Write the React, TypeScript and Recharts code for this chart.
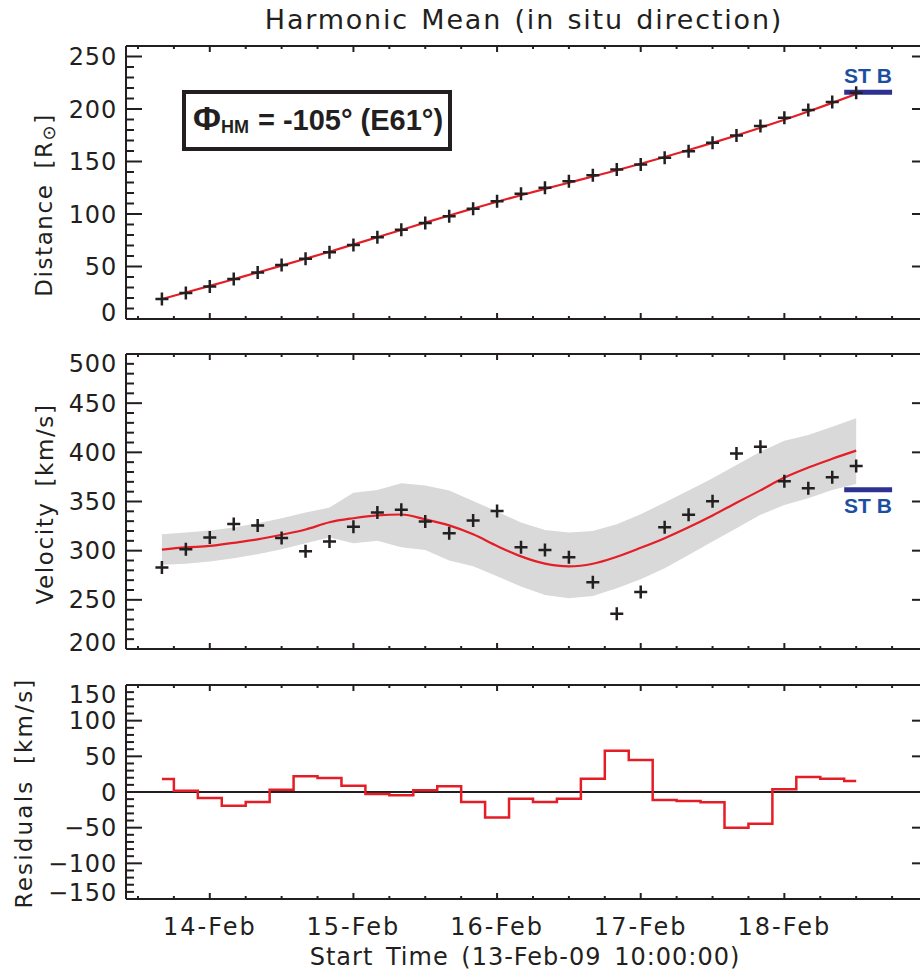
import { Area, ComposedChart, Line, ReferenceLine, Scatter, XAxis, YAxis } from "recharts";

// hours after 13-Feb-09 10:00:00
const hours = [6, 10, 14, 18, 22, 26, 30, 34, 38, 42, 46, 50, 54, 58, 62, 66, 70, 74, 78, 82, 86, 90, 94, 98, 102, 106, 110, 114, 118, 122];

const distance = [19.0, 24.7, 31.0, 38.0, 44.4, 51.4, 57.4, 63.5, 70.5, 77.8, 85.1, 91.5, 97.8, 104.9, 112.1, 119.2, 124.9, 131.2, 136.9, 142.4, 147.1, 153.5, 159.8, 167.8, 174.8, 183.7, 191.7, 199.0, 206.6, 215.5];
const distanceFit = [19.0, 25.2, 31.5, 37.9, 44.3, 50.8, 57.4, 64.1, 71.0, 77.9, 84.8, 91.8, 98.6, 105.2, 111.7, 117.9, 123.9, 129.8, 135.7, 141.7, 147.9, 154.3, 160.9, 167.7, 174.8, 182.2, 189.8, 197.7, 205.8, 214.2];

const velocity = [282.8, 301.5, 313.3, 327.2, 325.5, 313.0, 299.5, 309.3, 324.2, 338.7, 341.5, 329.6, 317.8, 330.6, 340.4, 303.6, 300.8, 293.4, 268.0, 235.8, 257.9, 323.9, 336.4, 350.3, 398.7, 405.8, 370.6, 363.5, 374.7, 386.2];
const velocityFit = [301.1, 303.3, 304.8, 308.0, 311.5, 316.2, 321.5, 328.9, 333.0, 335.9, 336.8, 331.9, 325.7, 316.6, 304.7, 294.2, 286.8, 284.0, 286.7, 293.8, 302.9, 312.7, 323.8, 335.8, 348.7, 361.3, 374.3, 384.5, 393.4, 401.7];
const velocityLow = [285.6, 286.6, 289.0, 292.4, 296.4, 301.5, 307.6, 313.3, 307.6, 310.0, 303.6, 300.8, 290.0, 284.1, 273.9, 263.5, 255.0, 251.7, 254.0, 261.9, 271.0, 282.2, 295.7, 309.3, 322.9, 336.4, 346.5, 353.3, 361.8, 367.9];
const velocityHigh = [316.8, 318.4, 320.4, 323.5, 327.9, 333.0, 338.7, 343.8, 359.0, 361.8, 368.6, 366.2, 361.1, 350.6, 339.8, 328.6, 321.1, 318.4, 320.1, 326.9, 337.1, 348.9, 361.1, 373.7, 387.2, 400.7, 411.9, 417.7, 426.1, 434.7];

const residuals = [18.3, 1.8, -8.5, -19.2, -14.0, 3.2, 22.0, 19.6, 8.8, -2.8, -4.7, 2.3, 7.9, -14.0, -35.7, -9.4, -14.0, -9.4, 18.7, 58.0, 45.0, -11.2, -12.6, -14.5, -50.0, -44.5, 3.7, 21.0, 18.7, 15.5];

const dayTicks = [14, 38, 62, 86, 110];
const dayLabels = ["14-Feb", "15-Feb", "16-Feb", "17-Feb", "18-Feb"];
const stb = { start: 120, end: 128, distance: 216, velocity: 362 };

const X_DOMAIN: [number, number] = [0, 134];
const INK = "#231f20";
const RED = "#e41e26";
const BLUE = "#2e3192";
const FONT = "'DejaVu Sans', sans-serif";
const BOLD = "'Liberation Sans', Arial, sans-serif";
const GAP = 9;

const range = (lo: number, hi: number, step: number) => {
  const out: number[] = [];
  for (let v = lo; v <= hi + 1e-9; v += step) out.push(v);
  return out;
};
const xTicks = range(2, 128, 6);

const distRows = hours.map((t, i) => ({ t, d: distance[i], fit: distanceFit[i] }));
const velRows = hours.map((t, i) => ({ t, v: velocity[i], fit: velocityFit[i], band: [velocityLow[i], velocityHigh[i]] }));
const resRows = hours.map((t, i) => ({ t, r: residuals[i] }));

const fmt = (v: number) => (v < 0 ? `\u2212${-v}` : `${v}`);

function yTick(side: "left" | "right", major: number, domain: [number, number]) {
  return function Tick(props: any) {
    const { x, y, payload } = props;
    const v = payload.value;
    const isMajor = Math.abs(v % major) < 1e-6;
    const len = isMajor ? 16 : 8;
    const ax = side === "left" ? x + GAP : x;
    const dir = side === "left" ? 1 : -1;
    let ly = y;
    if (v === domain[0]) ly -= 7;
    if (v === domain[1]) ly += 9;
    return (
      <g>
        <line x1={ax} x2={ax + dir * len} y1={y} y2={y} stroke={INK} strokeWidth={2} />
        {side === "left" && isMajor && (
          <text x={x} y={ly} dy="0.36em" textAnchor="end" fontFamily={FONT} fontSize={24} letterSpacing={0.8} fill={INK}>
            {fmt(v)}
          </text>
        )}
      </g>
    );
  };
}

function xTick(side: "top" | "bottom", labels: boolean) {
  return function Tick(props: any) {
    const { x, y, payload } = props;
    const idx = dayTicks.indexOf(payload.value);
    const len = idx >= 0 ? 6 : 3;
    const dir = side === "bottom" ? -1 : 1;
    return (
      <g>
        <line x1={x} x2={x} y1={y} y2={y + dir * len} stroke={INK} strokeWidth={2} />
        {labels && idx >= 0 && (
          <text x={x} y={y + 36} textAnchor="middle" fontFamily={FONT} fontSize={24} letterSpacing={2} fill={INK}>
            {dayLabels[idx]}
          </text>
        )}
      </g>
    );
  };
}

function Cross(props: any) {
  const { cx, cy } = props;
  if (cx == null || cy == null) return null;
  return <path d={`M${cx - 6.5},${cy}H${cx + 6.5}M${cx},${cy - 6.5}V${cy + 6.5}`} stroke={INK} strokeWidth={2.5} fill="none" />;
}

function Frame(props: { domain: [number, number]; major: number; minor: number; bottomHeight: number; labels: boolean }) {
  const { domain, major, minor, bottomHeight, labels } = props;
  const yTicks = range(domain[0], domain[1], minor);
  return [
    <XAxis key="xb" xAxisId={0} type="number" dataKey="t" domain={X_DOMAIN} ticks={xTicks} interval={0} orientation="bottom" height={bottomHeight} tickSize={0} tickMargin={0} tick={xTick("bottom", labels)} axisLine={{ stroke: INK, strokeWidth: 2 }} allowDataOverflow />,
    <XAxis key="xt" xAxisId="top" type="number" dataKey="t" domain={X_DOMAIN} ticks={xTicks} interval={0} orientation="top" height={1} tickSize={0} tickMargin={0} tick={xTick("top", false)} axisLine={{ stroke: INK, strokeWidth: 2 }} allowDataOverflow />,
    <YAxis key="yl" yAxisId={0} type="number" domain={domain} ticks={yTicks} interval={0} orientation="left" width={126} tickSize={0} tickMargin={GAP} tick={yTick("left", major, domain)} axisLine={{ stroke: INK, strokeWidth: 2 }} allowDataOverflow />,
    <YAxis key="yr" yAxisId="right" type="number" domain={domain} ticks={yTicks} interval={0} orientation="right" width={1} tickSize={0} tickMargin={0} tick={yTick("right", major, domain)} axisLine={{ stroke: INK, strokeWidth: 2 }} allowDataOverflow />,
  ];
}

const titleStyle = { fontFamily: FONT, fill: INK, letterSpacing: 1.6, wordSpacing: 6 };

export default function App() {
  return (
    <div style={{ position: "absolute", left: 0, top: 0, width: 920, height: 974, overflow: "hidden", background: "#fff" }}>
      <div style={{ position: "absolute", left: 0, top: 0 }}>
        <ComposedChart width={930} height={330} data={distRows} margin={{ top: 45, right: 1, bottom: 10, left: 0 }}>
          {Frame({ domain: [0, 260], major: 50, minor: 10, bottomHeight: 1, labels: false })}
          <Line type="monotone" dataKey="fit" stroke={RED} strokeWidth={2.2} dot={false} isAnimationActive={false} />
          <Scatter dataKey="d" shape={Cross} isAnimationActive={false} />
          <ReferenceLine segment={[{ x: stb.start, y: stb.distance }, { x: stb.end, y: stb.distance }]} stroke={BLUE} strokeWidth={5} />
        </ComposedChart>
      </div>
      <div style={{ position: "absolute", left: 0, top: 330 }}>
        <ComposedChart width={930} height={330} data={velRows} margin={{ top: 23, right: 1, bottom: 10, left: 0 }}>
          {Frame({ domain: [200, 500], major: 50, minor: 10, bottomHeight: 1, labels: false })}
          <Area type="linear" dataKey="band" fill="#d9d9d9" fillOpacity={1} stroke="none" isAnimationActive={false} />
          <Line type="monotone" dataKey="fit" stroke={RED} strokeWidth={2.2} dot={false} isAnimationActive={false} />
          <Scatter dataKey="v" shape={Cross} isAnimationActive={false} />
          <ReferenceLine segment={[{ x: stb.start, y: stb.velocity }, { x: stb.end, y: stb.velocity }]} stroke={BLUE} strokeWidth={5} />
        </ComposedChart>
      </div>
      <div style={{ position: "absolute", left: 0, top: 660 }}>
        <ComposedChart width={930} height={314} data={resRows} margin={{ top: 24, right: 1, bottom: 0, left: 0 }}>
          {Frame({ domain: [-150, 150], major: 50, minor: 10, bottomHeight: 75, labels: true })}
          <ReferenceLine y={0} stroke={INK} strokeWidth={2} />
          <Line type="step" dataKey="r" stroke={RED} strokeWidth={2.5} dot={false} isAnimationActive={false} />
        </ComposedChart>
      </div>
      <svg width={920} height={974} style={{ position: "absolute", left: 0, top: 0, pointerEvents: "none" }}>
        <text x={524} y={29} textAnchor="middle" fontSize={27} style={{ ...titleStyle, letterSpacing: 1.8, wordSpacing: 2 }}>
          Harmonic Mean (in situ direction)
        </text>
        <text x={52} y={205} transform="rotate(-90 52 205)" textAnchor="middle" fontSize={23} style={titleStyle}>
          Distance [R<tspan fontSize={18} dy={3}>{"\u2299"}</tspan><tspan dy={-3}>]</tspan>
        </text>
        <text x={53} y={504} transform="rotate(-90 53 504)" textAnchor="middle" fontSize={23} style={titleStyle}>
          Velocity [km/s]
        </text>
        <text x={32} y={793} transform="rotate(-90 32 793)" textAnchor="middle" fontSize={23} style={{ ...titleStyle, letterSpacing: 2.2, wordSpacing: 6 }}>
          Residuals [km/s]
        </text>
        <text x={525} y={965} textAnchor="middle" fontSize={24} style={{ ...titleStyle, letterSpacing: 1.0, wordSpacing: 4 }}>
          Start Time (13-Feb-09 10:00:00)
        </text>
        <rect x={184} y={92} width={266} height={57} fill="#fff" stroke={INK} strokeWidth={4} />
        <text x={193} y={130} fontFamily={BOLD} fontWeight="bold" fill={INK}>
          <tspan fontSize={34}>{"\u03a6"}</tspan>
          <tspan fontSize={18} dy={3}>HM</tspan>
          <tspan fontSize={29} dy={-3} dx={9}>= -105° (E61°)</tspan>
        </text>
        <text x={868} y={83} textAnchor="middle" fontFamily={BOLD} fontWeight="bold" fontSize={21} fill="#1c4fa1">
          ST B
        </text>
        <text x={868} y={513} textAnchor="middle" fontFamily={BOLD} fontWeight="bold" fontSize={21} fill="#1c4fa1">
          ST B
        </text>
      </svg>
    </div>
  );
}
